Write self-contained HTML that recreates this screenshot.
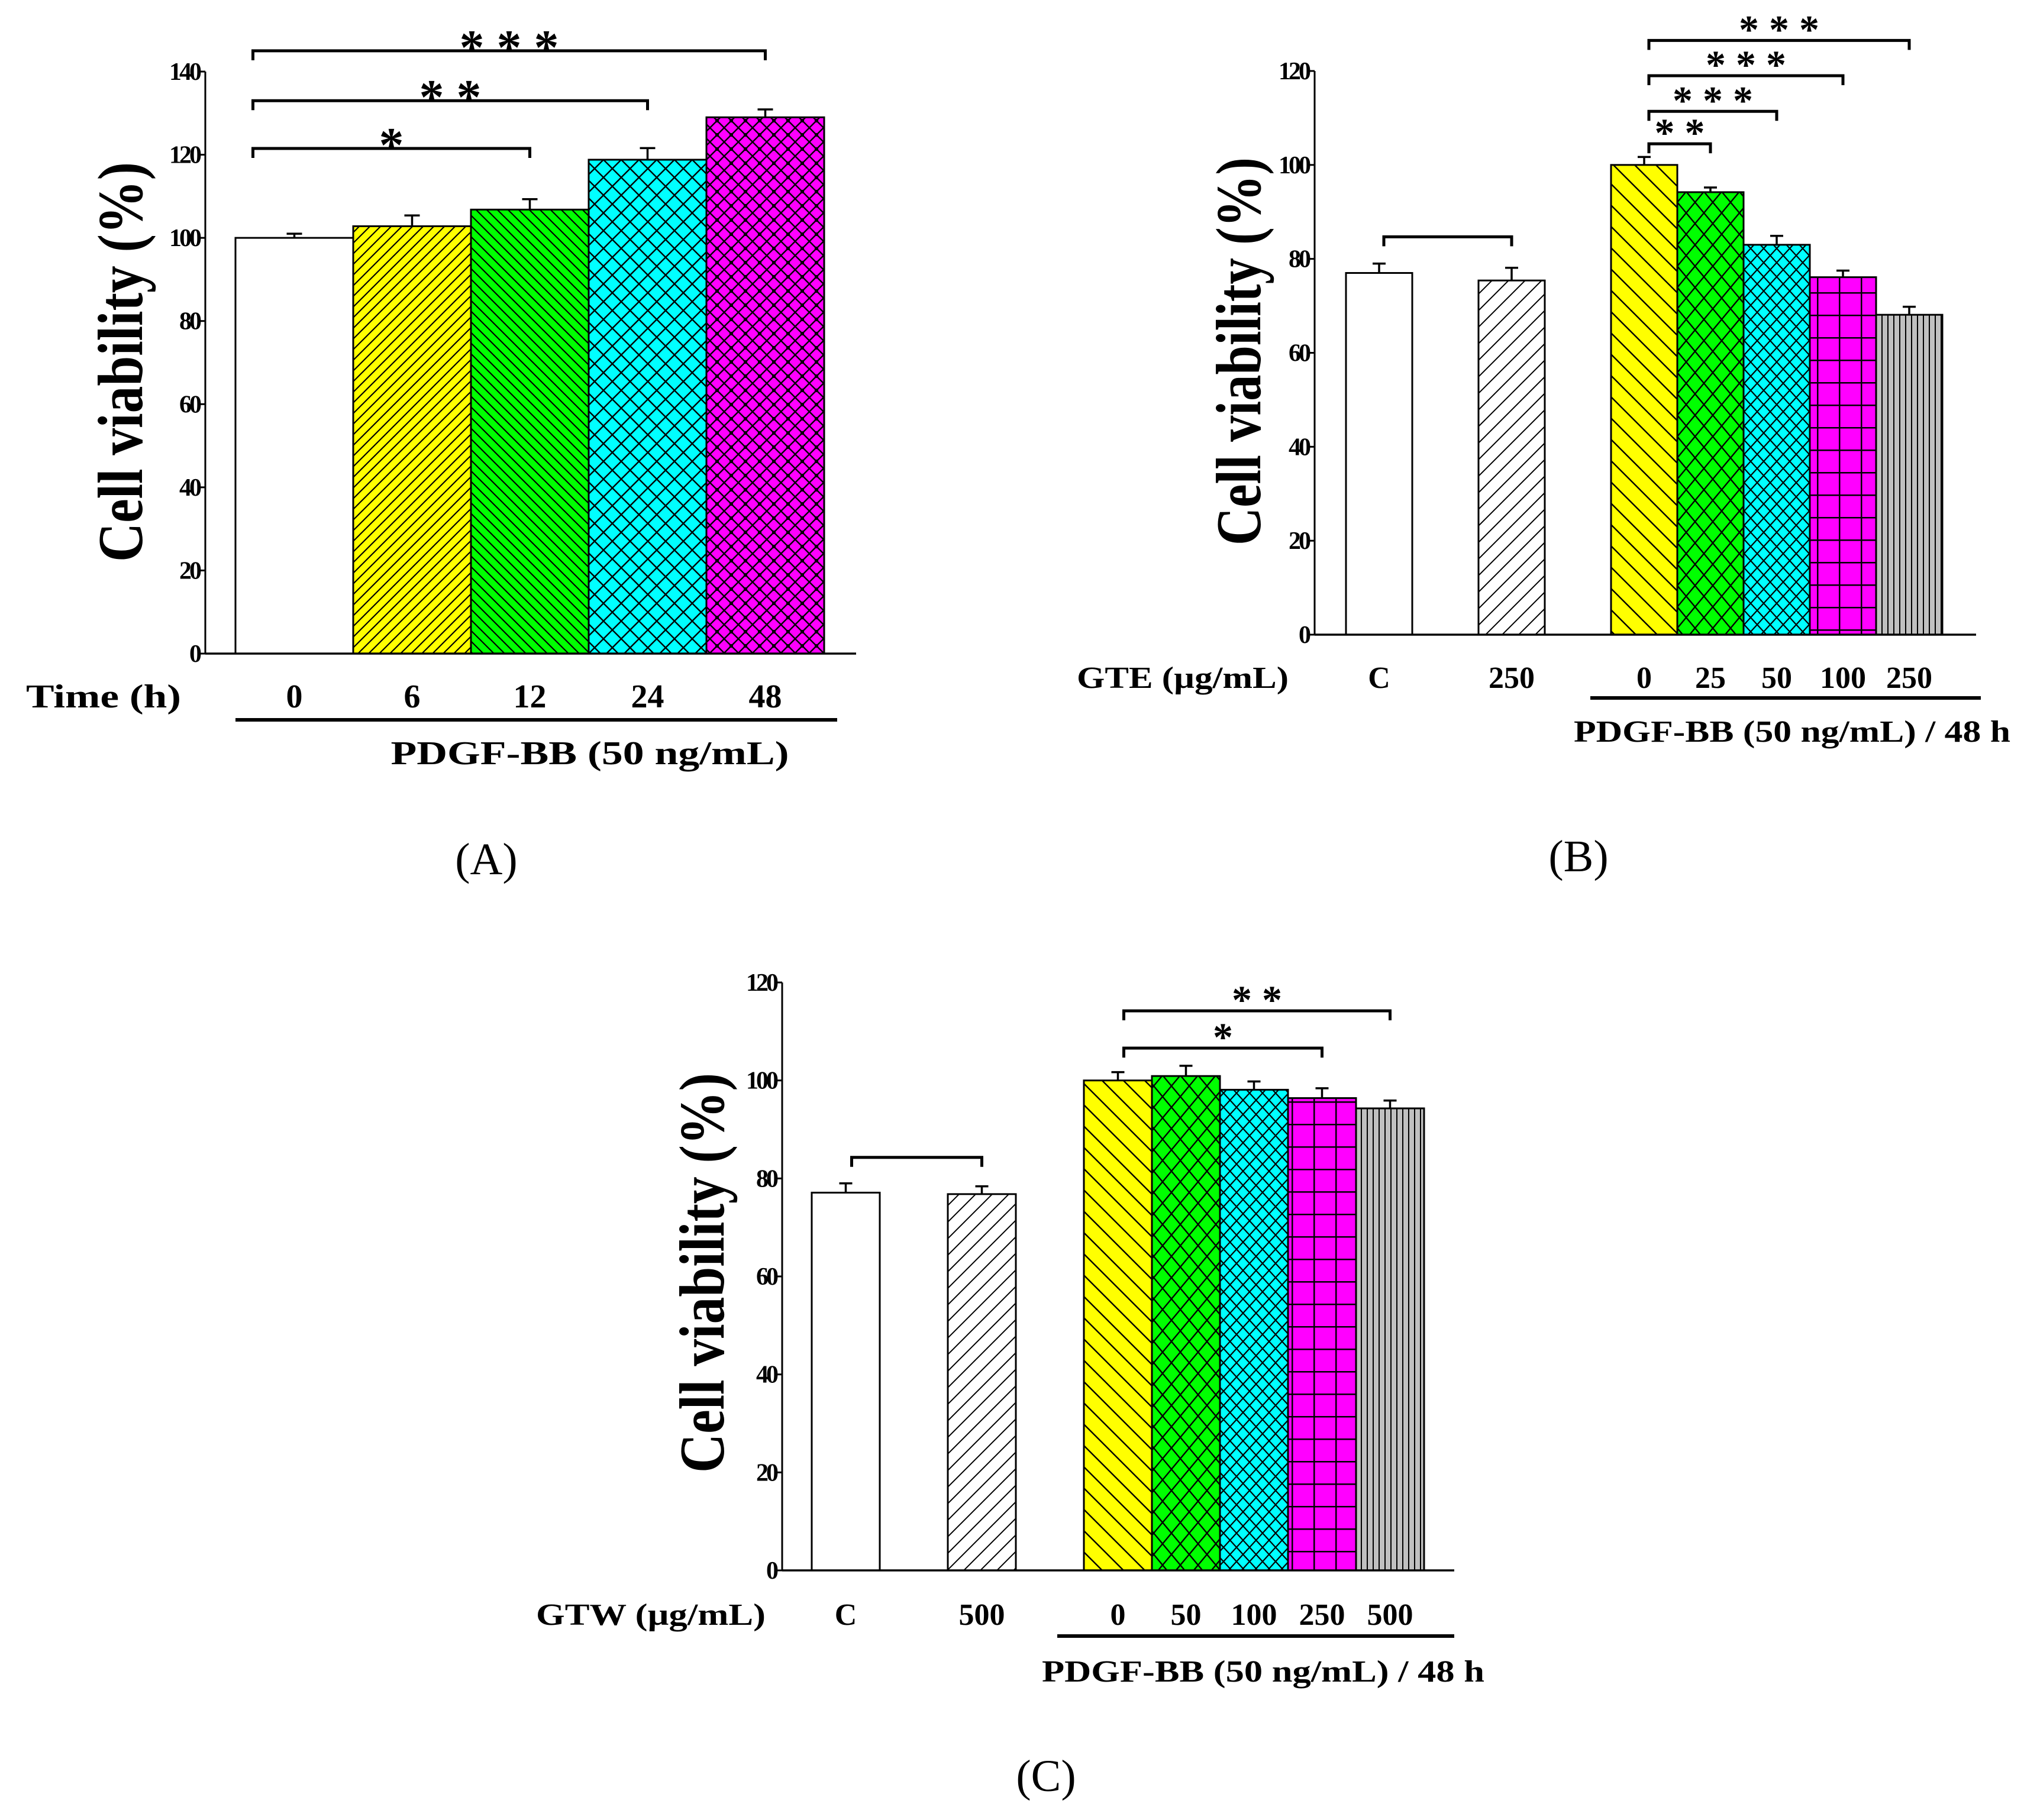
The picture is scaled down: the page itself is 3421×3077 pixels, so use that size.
<!DOCTYPE html>
<html><head><meta charset="utf-8">
<style>
html,body{margin:0;padding:0;background:#fff;}
svg{display:block;}
text{font-family:"Liberation Serif","DejaVu Serif",serif;font-weight:bold;fill:#000;}
text.letter{font-weight:normal;}
</style></head>
<body>
<svg id="fig" width="3421" height="3077" viewBox="0 0 3421 3077" xmlns="http://www.w3.org/2000/svg">
<defs>
  <pattern id="pA1" patternUnits="userSpaceOnUse" width="18" height="18"><rect width="18" height="18" fill="#ffff00"/><path d="M-2,20 L20,-2 M-5,5 L5,-5 M13,23 L23,13" stroke="#000" stroke-width="2.2"/></pattern>
  <pattern id="pA2" patternUnits="userSpaceOnUse" width="18" height="18"><rect width="18" height="18" fill="#00ff00"/><path d="M-2,-2 L20,20 M-5,13 L5,23 M13,-5 L23,5" stroke="#000" stroke-width="2.2"/></pattern>
  <pattern id="pA3" patternUnits="userSpaceOnUse" width="30" height="30"><rect width="30" height="30" fill="#00ffff"/><path d="M0,0 L30,30 M30,0 L0,30" stroke="#000" stroke-width="2.4"/></pattern>
  <pattern id="pA4" patternUnits="userSpaceOnUse" width="24" height="24"><rect width="24" height="24" fill="#ff00ff"/><path d="M0,0 L24,24 M24,0 L0,24" stroke="#000" stroke-width="2.4"/><rect x="9" y="9" width="6" height="6" fill="#000"/></pattern>
  <pattern id="pW" patternUnits="userSpaceOnUse" width="28" height="28"><rect width="28" height="28" fill="#fff"/><path d="M-2,30 L30,-2 M-5,5 L5,-5 M23,33 L33,23" stroke="#000" stroke-width="2"/></pattern>
  <pattern id="pY" patternUnits="userSpaceOnUse" width="36" height="36"><rect width="36" height="36" fill="#ffff00"/><path d="M-2,-2 L38,38 M-5,31 L5,41 M31,-5 L41,5" stroke="#000" stroke-width="2.4"/></pattern>
  <pattern id="pG" patternUnits="userSpaceOnUse" width="30" height="36"><rect width="30" height="36" fill="#00ff00"/><path d="M0,0 L30,36 M30,0 L0,36" stroke="#000" stroke-width="2.4"/></pattern>
  <pattern id="pC" patternUnits="userSpaceOnUse" width="22" height="24"><rect width="22" height="24" fill="#00ffff"/><path d="M0,0 L22,24 M22,0 L0,24" stroke="#000" stroke-width="2.2"/></pattern>
  <pattern id="pM" patternUnits="userSpaceOnUse" width="37" height="38"><rect width="37" height="38" fill="#ff00ff"/><path d="M0,1 L37,1 M1,0 L1,38" stroke="#000" stroke-width="3"/></pattern>
  <pattern id="pGr" patternUnits="userSpaceOnUse" width="10" height="10"><rect width="10" height="10" fill="#c0c0c0"/><path d="M1,0 L1,10" stroke="#000" stroke-width="2"/></pattern>
</defs>
<g id="root"></g>
</svg>
<script>
// ---- Panel A data ----
const aCategories = ["0","6","12","24","48"];
const aValues = [100, 102.8, 106.8, 118.8, 129];
const aErrors = [1.0, 2.6, 2.5, 2.8, 1.9];
const aTicks = [0,20,40,60,80,100,120,140];
const aBrackets = [[0,2,121.5,"*"],[0,3,133,"* *"],[0,4,145,"* * *"]];
// ---- Panel B data ----
const bCategories = ["C","250","0","25","50","100","250"];
const bValues = [77.0, 75.4, 100, 94.2, 83.0, 76.1, 68.1];
const bErrors = [2.0, 2.7, 1.7, 1.0, 1.9, 1.4, 1.7];
const bTicks = [0,20,40,60,80,100,120];
const bBrackets = [[0,1,84.7,""],[2,3,104.5,"* *"],[2,4,111.4,"* * *"],[2,5,119,"* * *"],[2,6,126.5,"* * *"]];
// ---- Panel C data ----
const cCategories = ["C","500","0","50","100","250","500"];
const cValues = [77.1, 76.8, 100, 100.9, 98.1, 96.4, 94.3];
const cErrors = [1.9, 1.6, 1.7, 2.1, 1.7, 2.0, 1.6];
const cTicks = [0,20,40,60,80,100,120];
const cBrackets = [[0,1,84.3,""],[2,5,106.6,"*"],[2,6,114.2,"* *"]];

const NS="http://www.w3.org/2000/svg";
const root=document.getElementById('root');
function mk(tag,attrs,parent){const e=document.createElementNS(NS,tag);for(const k in attrs)e.setAttribute(k,attrs[k]);(parent||root).appendChild(e);return e;}
function txt(s,attrs,parent){const e=mk('text',attrs,parent);e.textContent=s;return e;}

function panel(p){
  const g=mk('g',{});
  
  
  const ymax=p.ticks[p.ticks.length-1];
  const yS=v=>p.y0-(p.y0-p.yTop)*v/ymax;
  const slot=i=>p.gap?(i<2?i*2:i+2):i;
  const xS=i=>p.barStart+slot(i)*p.bw;
  const ya=mk('line',{x1:p.ax,y1:p.y0+1,x2:p.ax,y2:yS(ymax),stroke:'#000','stroke-width':3},g);
  
  
  p.ticks.forEach(t=>{
    const tk=mk('line',{x1:p.ax-10,y1:yS(t),x2:p.ax,y2:yS(t),stroke:'#000','stroke-width':3},g);
    
    
    const tl=txt(String(t),{x:p.ax-10,y:yS(t)+14,'font-size':42,'text-anchor':'end','letter-spacing':-4},g);
    
    
  });
  p.values.forEach((v,i)=>{
    const x=xS(i);
    const r=mk('rect',{x:x,y:yS(v),width:p.bw,height:p.y0-yS(v),fill:p.fills[i],stroke:'#000','stroke-width':3},g);
    
    
    const cx=x+p.bw/2, e=p.errors[i];
    const el=mk('path',{d:`M${cx},${yS(v)} V${yS(v+e)} M${cx-p.cap},${yS(v+e)} H${cx+p.cap}`,stroke:'#000','stroke-width':3.5,fill:'none'},g);
    
    
    const lb=txt(p.cats[i],{x:cx,y:p.labY,'font-size':p.labFs,'text-anchor':'middle'},g);
    
    
  });
  const xa=mk('line',{x1:p.ax,y1:p.y0,x2:p.axEnd,y2:p.y0,stroke:'#000','stroke-width':3.5},g);
  
  
  p.brackets.forEach(b=>{
    const x1=xS(b[0])+p.bw/2+p.bOff, x2=xS(b[1])+p.bw/2, y=yS(b[2]);
    const br=mk('path',{d:`M${x1},${y+16} V${y} H${x2} V${y+16}`,stroke:'#000','stroke-width':5,fill:'none'},g);
    
    
    if(b[3]){
      const st=txt(b[3],{x:(x1+x2)/2,y:y+p.starDy,'font-size':p.starFs,'text-anchor':'middle'},g);
      
      
    }
  });
  const yt=txt('Cell viability (%)',{x:0,y:0,'font-size':108,'text-anchor':'middle',textLength:p.ytLen,lengthAdjust:'spacingAndGlyphs',transform:`translate(${p.ytX},${p.ytY}) rotate(-90)`},g);
  
  
  const gl=txt(p.groupLabel,{x:p.glX,y:p.labY,'font-size':p.labFs,textLength:p.glLen,lengthAdjust:'spacingAndGlyphs'},g);
  
  
  const ul=mk('line',{x1:p.ulX1,y1:p.ulY,x2:p.ulX2,y2:p.ulY,stroke:'#000','stroke-width':6},g);
  
  
  const pd=txt(p.pdgf,{x:p.pdX,y:p.pdY,'font-size':p.labFs,'text-anchor':'middle',textLength:p.pdLen,lengthAdjust:'spacingAndGlyphs'},g);
  
  
  const pl=txt(p.letter,{x:p.lX,y:p.lY,'font-size':76,'text-anchor':'middle','class':'letter'},g);
  
  
}

panel({name:'panel-a',ticks:aTicks,values:aValues,errors:aErrors,cats:aCategories,brackets:aBrackets,
  ax:347,y0:1105,yTop:121,axEnd:1447,barStart:398,bw:199,gap:false,cap:13,
  fills:['#fff','url(#pA1)','url(#pA2)','url(#pA3)','url(#pA4)'],bOff:-70,
  starDy:22,starFs:84,labY:1196,labFs:56,
  ytX:240,ytY:612,ytLen:676,groupLabel:'Time (h)',glX:44,glLen:262,
  ulX1:398,ulX2:1415,ulY:1217,pdgf:'PDGF-BB (50 ng/mL)',pdX:997,pdY:1292,pdLen:673,
  letter:'(A)',lX:822,lY:1478});
panel({name:'panel-b',ticks:bTicks,values:bValues,errors:bErrors,cats:bCategories,brackets:bBrackets,
  ax:2222,y0:1073,yTop:120,axEnd:3340,barStart:2275,bw:112,gap:true,cap:11,
  fills:['#fff','url(#pW)','url(#pY)','url(#pG)','url(#pC)','url(#pM)','url(#pGr)'],bOff:8,
  starDy:4,starFs:68,labY:1163,labFs:52,
  ytX:2130,ytY:594,ytLen:656,groupLabel:'GTE (\u00b5g/mL)',glX:1820,glLen:358,
  ulX1:2688,ulX2:3348,ulY:1180,pdgf:'PDGF-BB (50 ng/mL) / 48 h',pdX:3029,pdY:1254,pdLen:738,
  letter:'(B)',lX:2668,lY:1473});
panel({name:'panel-c',ticks:cTicks,values:cValues,errors:cErrors,cats:cCategories,brackets:cBrackets,
  ax:1322,y0:2655,yTop:1661,axEnd:2458,barStart:1372,bw:115,gap:true,cap:11,
  fills:['#fff','url(#pW)','url(#pY)','url(#pG)','url(#pC)','url(#pM)','url(#pGr)'],bOff:10,
  starDy:4,starFs:68,labY:2747,labFs:52,
  ytX:1223,ytY:2152,ytLen:676,groupLabel:'GTW (\u00b5g/mL)',glX:906,glLen:388,
  ulX1:1787,ulX2:2458,ulY:2766,pdgf:'PDGF-BB (50 ng/mL) / 48 h',pdX:2135,pdY:2843,pdLen:748,
  letter:'(C)',lX:1768,lY:3028});
</script>
</body></html>
